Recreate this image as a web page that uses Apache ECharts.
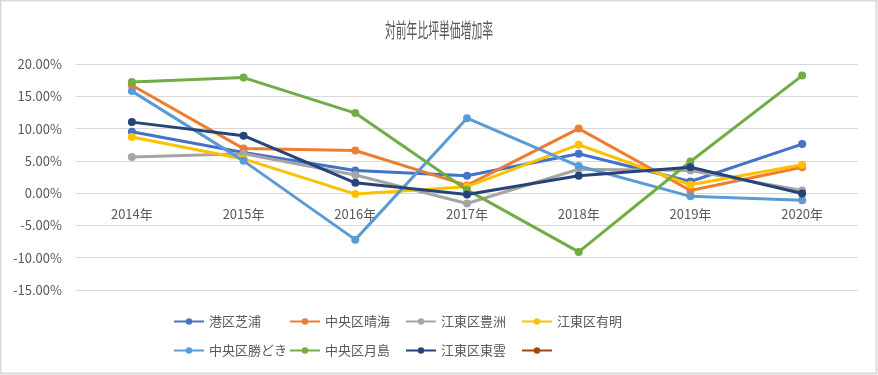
<!DOCTYPE html>
<html>
<head>
<meta charset="utf-8">
<script src="https://cdn.jsdelivr.net/npm/echarts@6/dist/echarts.min.js"></script>
<style>
  html, body { margin: 0; padding: 0; background: #fff; }
  #chart { width: 878px; height: 375px; }
</style>
</head>
<body>
<div id="chart"></div>
<script>
// 年
var years = ['2014年', '2015年', '2016年', '2017年', '2018年', '2019年', '2020年'];

// 対前年比 (%)
var shibaura   = [9.5, 6.3, 3.5, 2.7, 6.1, 1.8, 7.6];
var harumi     = [16.7, 6.9, 6.6, 1.2, 10.0, 0.4, 4.0];
var toyosu     = [5.6, 6.1, 2.8, -1.6, 3.7, 3.5, 0.4];
var ariake     = [8.7, 5.3, -0.15, 1.0, 7.5, 1.3, 4.4];
var kachidoki  = [15.8, 5.0, -7.2, 11.6, 4.2, -0.5, -1.1];
var tsukishima = [17.2, 17.9, 12.4, 0.5, -9.1, 4.9, 18.2];
var shinonome  = [11.0, 8.9, 1.6, -0.2, 2.7, 4.0, -0.05];
var blank      = [];

var names  = ['港区芝浦', '中央区晴海', '江東区豊洲', '江東区有明', '中央区勝どき', '中央区月島', '江東区東雲', ' '];
var values = [shibaura, harumi, toyosu, ariake, kachidoki, tsukishima, shinonome, blank];
var colors = ['#4472C4', '#ED7D31', '#A5A5A5', '#FFC000', '#5B9BD5', '#70AD47', '#264478', '#9E480E'];

// y軸の目盛
var yMin = -15, yMax = 20, yStep = 5;

var textColor = '#595959';
var font = '"Noto Sans CJK JP", "Noto Sans", sans-serif';

var series = names.map(function (n, i) {
  return {
    name: n,
    type: 'line',
    data: values[i],
    color: colors[i],
    symbol: 'circle',
    symbolSize: 8,
    lineStyle: { width: 3 },
    z: 2 + i
  };
});

// 凡例は4列×2段、項目ごとに位置を固定
var legends = names.map(function (n, i) {
  return {
    data: [n],
    left: 168 + (i % 4) * 116,
    top: i < 4 ? 310 : 339,
    itemWidth: 30,
    itemHeight: 8,
    textStyle: { color: textColor, fontSize: 13, fontFamily: font }
  };
});

var chart = echarts.init(document.getElementById('chart'));
chart.setOption({
  animation: false,
  backgroundColor: '#fff',
  textStyle: { fontFamily: font },
  graphic: [
    {
      type: 'rect',
      shape: { x: 0.5, y: 0.5, width: 876, height: 373 },
      style: { fill: null, stroke: '#d9d9d9', lineWidth: 2 },
      silent: true
    },
    {
      type: 'text',
      x: 439,
      y: 30,
      scaleX: 0.54,
      style: {
        text: '対前年比坪単価増加率',
        fill: textColor,
        fontSize: 20,
        fontFamily: font,
        align: 'center',
        verticalAlign: 'middle'
      }
    }
  ],
  legend: legends,
  grid: { left: 76, right: 20, top: 64, bottom: 85, containLabel: false },
  xAxis: {
    type: 'category',
    data: years,
    boundaryGap: true,
    offset: -97,
    axisLine: { show: true, onZero: false, lineStyle: { color: '#d9d9d9', width: 1 } },
    axisTick: { show: false },
    axisLabel: { color: textColor, fontSize: 13, margin: 15, fontFamily: font }
  },
  yAxis: {
    type: 'value',
    min: yMin,
    max: yMax,
    interval: yStep,
    axisLine: { show: false },
    axisTick: { show: false },
    splitLine: { lineStyle: { color: '#d9d9d9', width: 1 } },
    axisLabel: {
      color: textColor,
      fontSize: 13,
      margin: 14,
      fontFamily: font,
      formatter: function (v) { return v.toFixed(2) + '%'; }
    }
  },
  series: series
});
</script>
</body>
</html>
